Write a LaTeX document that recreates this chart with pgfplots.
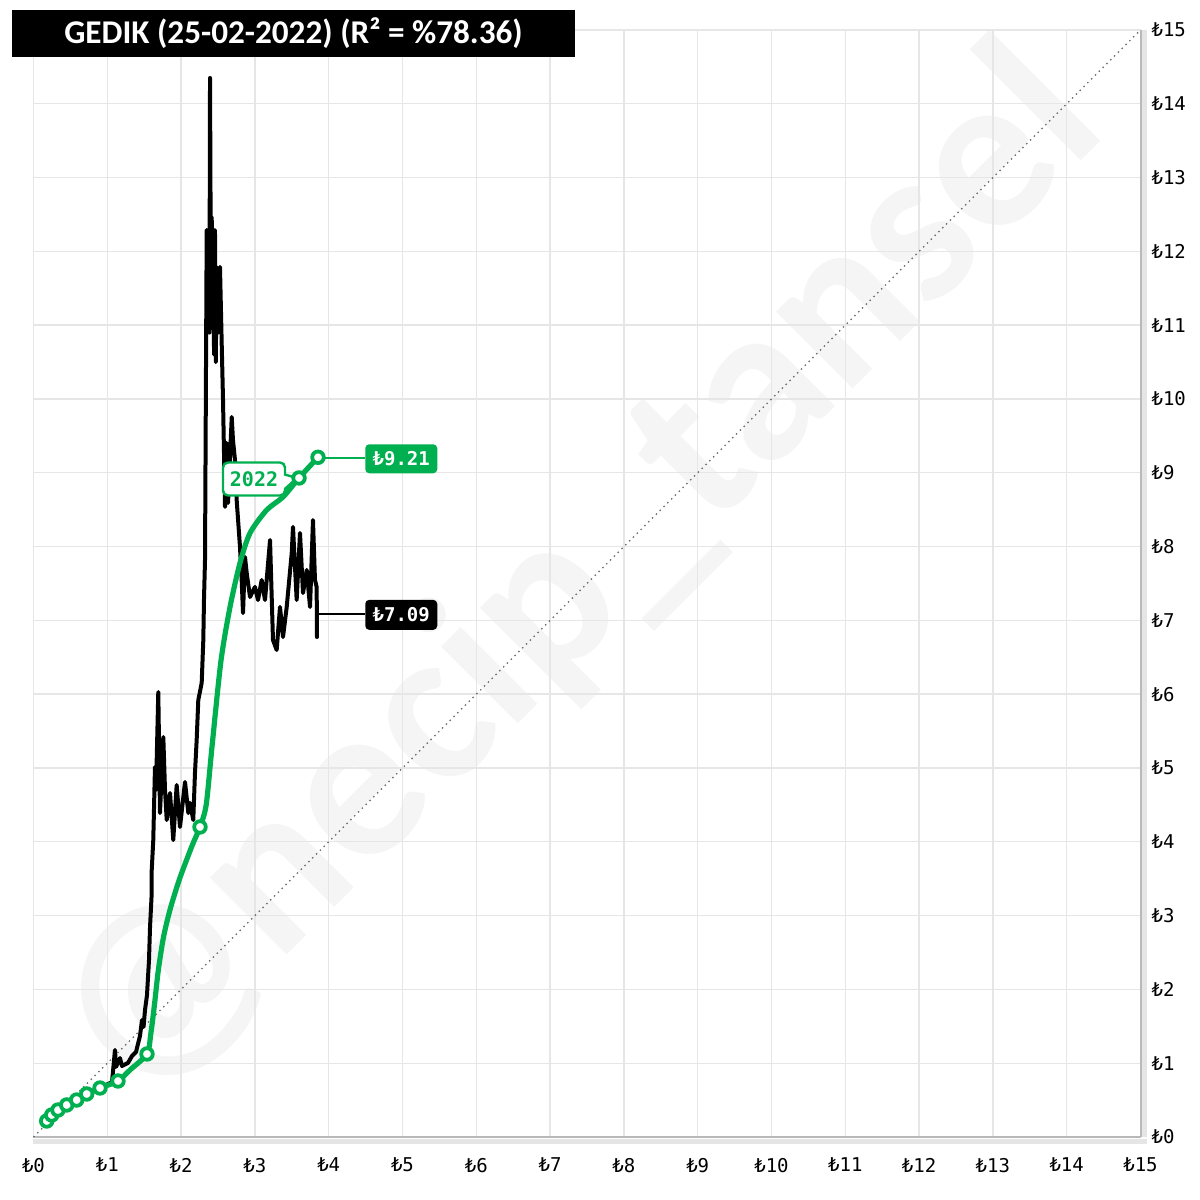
\documentclass[border=0pt]{standalone}
\usepackage{pgfplots}
\pgfplotsset{compat=1.18}
\usepackage{fontspec}
\setmainfont{Carlito}
\newfontfamily\monofont{DejaVu Sans Mono}
\usetikzlibrary{shapes.callouts}
\definecolor{xlgreen}{RGB}{0,176,80}
\definecolor{gridgray}{RGB}{230,230,230}
\definecolor{wmgray}{RGB}{245,245,245}

\pgfplotstableread{
x y
0.183 0.217
0.359 0.407
0.630 0.542
0.901 0.664
1.064 0.745
1.104 1.179
1.118 0.949
1.172 1.070
1.199 0.962
1.280 1.003
1.335 1.098
1.389 1.152
1.443 1.369
1.470 1.585
1.491 1.491
1.511 1.721
1.538 1.924
1.565 2.398
1.579 2.846
1.602 3.306
1.602 3.618
1.623 4.024
1.646 5.014
1.660 4.702
1.691 6.030
1.714 4.390
1.759 5.420
1.782 4.702
1.805 4.295
1.850 4.661
1.894 4.024
1.940 4.770
1.985 4.201
2.053 4.810
2.098 4.390
2.121 4.526
2.165 4.295
2.188 4.932
2.211 5.379
2.233 5.921
2.279 6.152
2.301 6.734
2.310 7.276
2.324 7.818
2.337 10.352
2.347 12.290
2.364 11.341
2.375 12.100
2.384 10.900
2.392 14.350
2.405 11.200
2.415 12.466
2.425 10.950
2.436 11.612
2.447 10.600
2.459 12.290
2.470 10.500
2.482 11.789
2.505 10.900
2.527 11.789
2.550 10.759
2.568 9.986
2.595 8.537
2.618 9.404
2.636 8.591
2.686 9.756
2.703 9.444
2.730 9.173
2.753 8.631
2.798 7.995
2.821 7.547
2.839 7.100
2.866 7.859
2.889 7.642
2.934 7.317
3.001 7.453
3.042 7.276
3.092 7.547
3.137 7.276
3.205 8.089
3.245 6.734
3.295 6.599
3.340 7.182
3.381 6.775
3.431 7.182
3.499 7.913
3.516 8.266
3.566 7.276
3.611 8.184
3.652 7.371
3.702 7.683
3.747 7.182
3.787 8.360
3.814 7.547
3.837 7.453
3.841 6.775
3.841 7.090
}\pricedata

\pgfplotstableread{
x y
0.179 0.217
0.247 0.298
0.332 0.366
0.450 0.434
0.585 0.501
0.721 0.583
0.901 0.664
1.145 0.759
1.307 0.908
1.538 1.125
1.590 1.400
1.640 1.800
1.690 2.250
1.760 2.700
1.850 3.080
1.980 3.500
2.150 3.950
2.256 4.201
2.340 4.500
2.420 5.300
2.540 6.450
2.663 7.182
2.798 7.778
2.934 8.184
3.160 8.496
3.381 8.672
3.598 8.930
3.855 9.210
}\trendcurve

\pgfplotstableread{
x y
0.179 0.217
0.247 0.298
0.332 0.366
0.450 0.434
0.585 0.501
0.721 0.583
0.901 0.664
1.145 0.759
1.538 1.125
2.256 4.201
3.598 8.930
3.855 9.210
}\trendmarks

\begin{document}
\begin{tikzpicture}
\begin{axis}[
  name=ax,
  set layers,
  scale only axis,
  width=553.5pt, height=553.5pt,
  xmin=0, xmax=15, ymin=0, ymax=15,
  xtick={0,...,15}, ytick={0,...,15},
  axis x line=bottom, axis y line=right,
  axis line style={draw=gray!55, line width=1pt, -},
  major tick length=0pt,
  grid=major,
  major grid style={draw=gridgray, line width=0.7pt},
  ticklabel style={font=\monofont\fontsize{9.5}{11}\selectfont, text=black},
  /pgf/number format/assume math mode=true,
  xticklabel={₺\pgfmathprintnumber{\tick}},
  yticklabel={₺\pgfmathprintnumber{\tick}},
  yticklabel style={anchor=west, xshift=2pt},
  xticklabel style={yshift=-7pt},
  clip=false,
]
\begin{pgfonlayer}{axis background}
\node[rotate=45, text=wmgray, font=\fontsize{112}{112}\selectfont\bfseries, inner sep=0pt]
  at (axis cs:7.4,7.6) {@necip\_tansel};
\end{pgfonlayer}

% axis shadow
\draw[black!10, line width=2.5pt] ([xshift=2pt]rel axis cs:1,0) -- ([xshift=2pt]rel axis cs:1,1);
\draw[black!10, line width=2.5pt] ([yshift=-2pt]rel axis cs:0,0) -- ([yshift=-2pt, xshift=3pt]rel axis cs:1,0);

\addplot[black!60, dotted, line width=0.7pt] coordinates {(0,0) (15,15)};

\addplot[black, line width=2pt, line join=round] table[x=x, y=y] {\pricedata};

\addplot[xlgreen, line width=2.6pt, smooth, tension=0.45] table[x=x, y=y] {\trendcurve};
\addplot[only marks, mark=*, mark size=2.9pt, mark options={draw=xlgreen, fill=white, line width=1.9pt}] table[x=x, y=y] {\trendmarks};

% leader lines and value labels
\draw[xlgreen, line width=1pt] (axis cs:3.855,9.205) -- (axis cs:4.49,9.205);
\node[fill=xlgreen, text=white, rounded corners=2pt, anchor=west, minimum width=36pt, minimum height=14.5pt, inner sep=0pt,
  font=\monofont\bfseries\fontsize{9.5}{11}\selectfont] at (axis cs:4.49,9.19) {₺9.21};
\draw[black, line width=1pt] (axis cs:3.841,7.09) -- (axis cs:4.49,7.09);
\node[fill=black, text=white, rounded corners=2pt, anchor=west, minimum width=36pt, minimum height=15pt, inner sep=0pt,
  font=\monofont\bfseries\fontsize{9.5}{11}\selectfont] at (axis cs:4.49,7.075) {₺7.09};

\node[rectangle callout, callout absolute pointer={(axis cs:3.57,8.93)}, draw=xlgreen, line width=1.2pt, fill=white,
  text=xlgreen, rounded corners=2.5pt, minimum width=31pt, minimum height=16.5pt, inner sep=0pt,
  font=\monofont\bfseries\fontsize{10}{12}\selectfont] at (axis cs:2.988,8.916) {2022};

% title
\node[fill=black, text=white, minimum width=281.5pt, minimum height=23.5pt, inner sep=0pt,
  font=\bfseries\fontsize{16.6}{18}\selectfont] at ([xshift=130pt, yshift=-1.75pt]rel axis cs:0,1) {GEDIK (25-02-2022) (R² = \%78.36)};
\end{axis}
\pgfresetboundingbox
\path (ax.south west) ++(-16.75pt,-31.5pt) rectangle ++(600pt,600pt);
\end{tikzpicture}
\end{document}
